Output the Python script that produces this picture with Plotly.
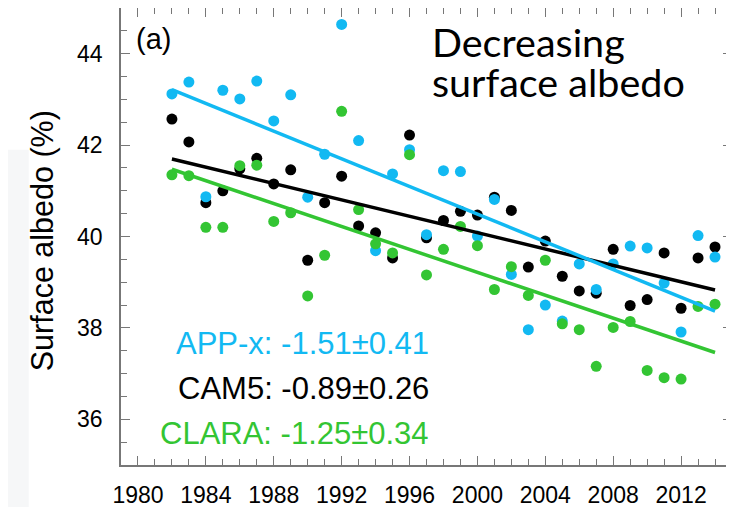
import numpy as np
import plotly.graph_objects as go

# data (annual surface albedo, %)
years = list(range(1982, 2015))

app_x = [43.12, 43.38, 40.87, 43.20, 43.01, 43.40, 42.53, 43.10, 40.86, 41.80,
         44.64, 42.10, 39.69, 41.37, 41.90, 40.04, 41.44, 41.42, 40.01, 40.81,
         39.17, 37.96, 38.50, 38.15, 39.40, 38.84, 39.40, 39.79, 39.75, 38.98,
         37.91, 40.02, 39.55]

cam5 = [42.57, 42.07, 40.74, 41.00, 41.48, 41.71, 41.15, 41.46, 39.48, 40.74,
        41.32, 40.23, 40.08, 39.53, 42.22, 39.97, 40.35, 40.55, 40.47, 40.86,
        40.57, 39.33, 39.90, 39.13, 38.81, 38.76, 39.72, 38.49, 38.62, 39.64,
        38.43, 39.53, 39.77]

clara = [41.35, 41.33, 40.20, 40.20, 41.55, 41.56, 40.33, 40.52, 38.70, 39.59,
         42.74, 40.59, 39.84, 39.64, 41.79, 39.16, 39.72, 40.22, 39.80, 38.84,
         39.34, 38.71, 39.48, 38.09, 37.96, 37.16, 38.01, 38.14, 37.07, 36.91,
         36.88, 38.47, 38.52]

trend_labels = ["APP-x: -1.51\u00b10.41", "CAM5: -0.89\u00b10.26", "CLARA: -1.25\u00b10.34"]

BLUE = "#12b9f2"
BLACK = "#000000"
GREEN = "#33c533"
FONT = "Liberation Sans"

series = [("CAM5", cam5, BLACK), ("APP-x", app_x, BLUE), ("CLARA", clara, GREEN)]

fig = go.Figure()

# dots first (black under blue under green)
for name, vals, col in series:
    fig.add_trace(go.Scatter(x=years, y=vals, mode="markers", name=name,
                             marker=dict(size=11, color=col, line=dict(width=0))))

# least-squares trend lines on top
yrs = np.array(years, dtype=float)
for name, vals, col in series:
    k, b = np.polyfit(yrs, np.array(vals), 1)
    fig.add_trace(go.Scatter(x=[yrs[0], yrs[-1]], y=[k * yrs[0] + b, k * yrs[-1] + b],
                             mode="lines", line=dict(color=col, width=3.5),
                             name=name + " trend"))

axis_common = dict(
    showline=True, linecolor="#777777", linewidth=1.5, mirror="allticks",
    ticks="inside", tickcolor="#777777", tickwidth=1.2, ticklen=9,
    showgrid=False, zeroline=False, automargin=False,
    tickfont=dict(family=FONT, size=23, color="black"),
)

fig.update_xaxes(range=[1979, 2015], tickmode="linear", tick0=1980, dtick=4,
                 minor=dict(ticks="inside", dtick=1, ticklen=6, tickcolor="#777777",
                            tickwidth=1.2, showgrid=False),
                 ticklabelstandoff=9, **axis_common)
fig.update_yaxes(range=[35, 45], tickmode="linear", tick0=36, dtick=2,
                 minor=dict(ticks="inside", dtick=0.5, ticklen=6, tickcolor="#777777",
                            tickwidth=1.2, showgrid=False),
                 ticklabelstandoff=12, **axis_common)

ann = [
    dict(x=1980.9, y=44.32, text="(a)", font=dict(family=FONT, size=29, color="black"),
         xanchor="center", yanchor="middle"),
    dict(x=1997.2, y=44.27, text="Decreasing", font=dict(family="Lato", size=39.5, color="black"),
         xanchor="left", yanchor="middle"),
    dict(x=1997.2, y=43.39, text="surface albedo", font=dict(family="Lato", size=39.5, color="black"),
         xanchor="left", yanchor="middle"),
    dict(x=-0.129, xref="paper", y=0.49, yref="paper", text="Surface albedo (%)", textangle=-90,
         font=dict(family=FONT, size=30.5, color="black"), xanchor="center", yanchor="middle"),
]
for lab, yy, col in zip(trend_labels, [37.66, 36.68, 35.70], [BLUE, BLACK, GREEN]):
    ann.append(dict(x=1997.25, y=yy, text=lab, font=dict(family=FONT, size=31, color=col),
                    xanchor="right", yanchor="middle"))
for a in ann:
    a["showarrow"] = False

# the page body adds an 8px offset, so the figure is sized for what is left
fig.update_layout(
    width=726, height=499,
    margin=dict(l=113, r=2, t=0, b=42, pad=0),
    paper_bgcolor="white", plot_bgcolor="white",
    showlegend=False,
    annotations=ann,
    shapes=[dict(type="rect", xref="paper", yref="paper", x0=-0.185, x1=-0.151,
                 y0=-0.1, y1=0.69, fillcolor="#f6f7f8", line=dict(width=0), layer="below")],
)

fig.write_html("out.html")
